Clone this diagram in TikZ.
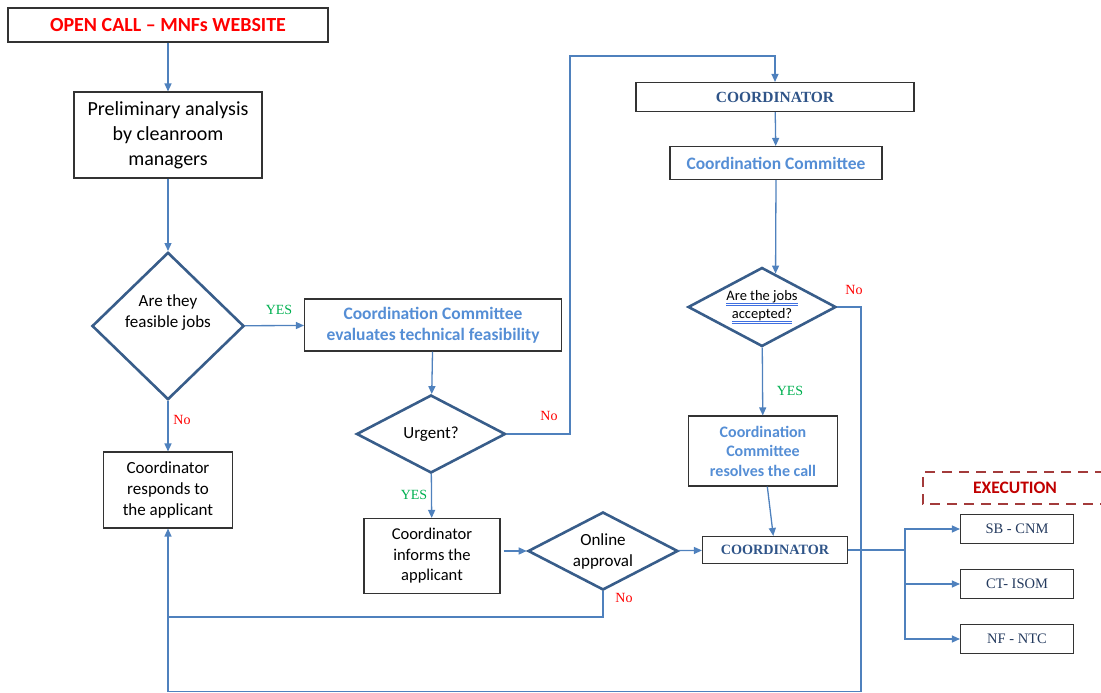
\documentclass[tikz,border=0pt]{standalone}
\usepackage{fontspec}
\setmainfont{Carlito}
\newfontfamily\tnr{Liberation Serif}
\usetikzlibrary{shapes.geometric,arrows.meta,calc}
\definecolor{lnblue}{HTML}{4F81BD}
\definecolor{dkblue}{HTML}{385D8A}
\definecolor{txblue}{HTML}{558ED5}
\definecolor{coblue}{HTML}{2F5488}
\definecolor{navy}{HTML}{243A5E}
\definecolor{exred}{HTML}{C00000}
\definecolor{exdash}{HTML}{A33B3B}
\definecolor{yesgreen}{HTML}{00B050}
\definecolor{ulblue}{HTML}{3F6FE0}
\newlength\ulw
\newcommand\dblu[1]{\settowidth\ulw{#1}\rlap{#1}\textcolor{ulblue}{\rule[-3pt]{\ulw}{0.7pt}\llap{\rule[-5pt]{\ulw}{0.7pt}}}}
\tikzset{
  box/.style={draw=black!80, line width=1.1pt, inner sep=0pt, align=center},
  decision/.style={diamond, draw=dkblue, line width=2.6pt, inner sep=0pt, align=center, font=\fontsize{17}{21}\selectfont},
  link/.style={draw=lnblue, line width=1.3pt, -{Triangle[length=8pt,width=7pt]}},
  wire/.style={draw=lnblue, line width=1.3pt},
  yes/.style={text=yesgreen, font=\tnr\fontsize{14}{16}\selectfont, inner sep=0pt},
  no/.style={text=red, font=\tnr\fontsize{14}{16}\selectfont, inner sep=0pt},
  cobox/.style={box, text=coblue, font=\tnr\bfseries\fontsize{15}{18}\selectfont},
  unit/.style={box, minimum width=113pt, minimum height=29pt, text=navy, font=\tnr\fontsize{14.5}{17}\selectfont},
  ccbox/.style={box, text=txblue, font=\bfseries\fontsize{17.5}{21}\selectfont},
}
\begin{document}
\begin{tikzpicture}[x=1pt,y=-1pt]
  \useasboundingbox (0,0) rectangle (1101,693);
  % left column
  \node[box, minimum width=320pt, minimum height=34pt, text=red, font=\bfseries\fontsize{20}{24}\selectfont] (call) at (168,25) {OPEN CALL -- MNFs WEBSITE};
  \node[box, minimum width=188pt, minimum height=86pt, font=\fontsize{20}{25}\selectfont] (prelim) at (168,135) {Preliminary analysis\\by cleanroom\\managers};
  \node[decision, minimum width=152pt, minimum height=146pt] (feas) at (168,326) {Are they\\feasible jobs\\[8pt]};
  \node[box, minimum width=129pt, minimum height=76pt, font=\fontsize{17}{21}\selectfont] (resp) at (168,490) {Coordinator\\responds to\\the applicant};
  % middle column
  \node[ccbox, minimum width=257pt, minimum height=52pt] (eval) at (433,325) {Coordination Committee\\evaluates technical feasibility};
  \node[decision, aspect=2, minimum width=149pt, minimum height=78pt] (urg) at (431,434) {Urgent?};
  \node[box, minimum width=136pt, minimum height=75pt, font=\fontsize{16.5}{20.5}\selectfont] (inform) at (432,556) {Coordinator\\informs the\\applicant};
  \node[decision, aspect=2.2, minimum width=150pt, minimum height=78pt] (online) at (603,551) {Online\\approval};
  % right column
  \node[cobox, minimum width=278pt, minimum height=29pt, font=\tnr\bfseries\fontsize{15.5}{18}\selectfont] (cotop) at (775,97) {COORDINATOR};
  \node[ccbox, minimum width=212pt, minimum height=33pt] (comm) at (776,163) {Coordination Committee};
  \node[decision, aspect=2.2, minimum width=148pt, minimum height=79pt, font=\fontsize{14.5}{18}\selectfont] (acc) at (762,307) {\dblu{Are the jobs}\\\dblu{accepted?}};
  \node[ccbox, minimum width=149pt, minimum height=70pt, font=\bfseries\fontsize{16}{19.5}\selectfont] (resolve) at (763,451) {Coordination\\Committee\\resolves the call};
  \node[cobox, minimum width=145pt, minimum height=27pt, font=\tnr\bfseries\fontsize{14.2}{17}\selectfont] (cobot) at (775,550) {COORDINATOR};
  % execution
  \draw[exdash, line width=2pt, dash pattern=on 10pt off 7pt] (1105,472) -- (923,472) -- (923,504) -- (1105,504);
  \node[text=exred, font=\bfseries\fontsize{17.5}{21}\selectfont, inner sep=0pt] (exec) at (1015,488) {EXECUTION};
  \node[unit] (sb) at (1017,529) {SB - CNM};
  \node[unit] (ct) at (1017,584) {CT- ISOM};
  \node[unit] (nf) at (1017,639) {NF - NTC};
  % corners
  \coordinate (up) at (570,56);
  \coordinate (joinA) at (168,617);
  \coordinate (downR) at (861,691.5);
  \coordinate (downL) at (168,691.5);
  \coordinate (fork) at (905,550);
  % connectors
  \draw[link] (call) -- (prelim);
  \draw[link] (prelim) -- (feas);
  \draw[link] (feas) -- (resp);
  \draw[link] (feas) -- (eval);
  \draw[link] (eval) -- (urg);
  \draw[link] (urg) -- (inform);
  \draw[link] (urg.east) -| (up) -| (cotop.north);
  \draw[link] ([xshift=3pt]inform.east |- online.west) -- (online.west);
  \draw[link] (online) -- (cobot);
  \draw[wire] (online.south) |- (joinA);
  \draw[link] (cotop) -- (comm);
  \draw[link] (comm.south) -- ($(acc.north)!0.18!(acc.east)$);
  \draw[link] (acc) -- (resolve);
  \draw[link] (resolve) -- (cobot);
  \draw[link] (acc.east) -| (downR) -- (downL) -- (resp.south);
  \draw[wire] (cobot.east) -- (fork);
  \draw[link] (fork) |- (sb.west);
  \draw[link] (fork) |- (ct.west);
  \draw[link] (fork) |- (nf.west);
  % labels
  \node[yes] (y1) at (279,310) {YES};
  \node[no] (n1) at (182,420) {No};
  \node[no] (n2) at (549,416) {No};
  \node[yes] (y2) at (414,495) {YES};
  \node[no] (n3) at (624,598) {No};
  \node[yes] (y3) at (790,391) {YES};
  \node[no] (n4) at (854,290) {No};
\end{tikzpicture}
\end{document}
